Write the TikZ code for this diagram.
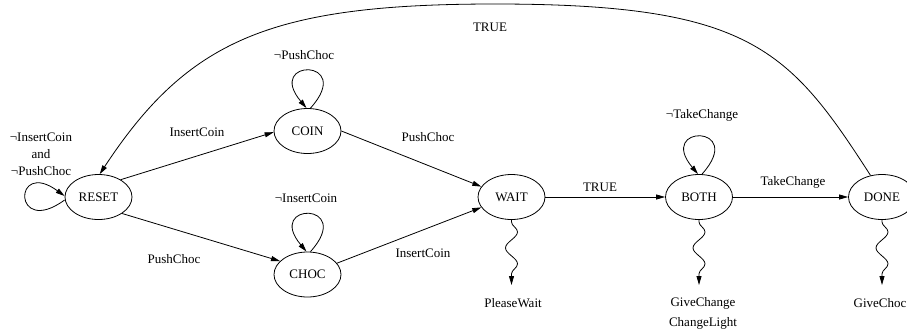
\documentclass[tikz,border=0pt]{standalone}
\usepackage{fontspec}
\setmainfont{Liberation Serif}
\usetikzlibrary{shapes.geometric,arrows.meta,decorations.pathmorphing}
\begin{document}
\begin{tikzpicture}[x=1pt,y=-1pt,
  state/.style={ellipse,draw,line width=0.8pt,minimum width=67pt,minimum height=45pt,
    inner sep=0pt,font=\fontsize{13}{15}\selectfont},
  lbl/.style={font=\fontsize{13}{15}\selectfont,inner sep=0pt},
  edge/.style={line width=0.8pt,-{Triangle[length=9pt,width=5pt]}},
  emit/.style={edge,decorate,decoration={snake,segment length=32pt,amplitude=6pt,
    pre length=2pt,post length=10pt}}]
\useasboundingbox (0,0) rectangle (907,335);

% states
\node[state] (RESET) at (98.5,197) {RESET};
\node[state] (COIN)  at (307.5,131) {COIN};
\node[state] (CHOC)  at (307.5,274.5) {CHOC};
\node[state] (WAIT)  at (511.5,197) {WAIT};
\node[state] (BOTH)  at (699,197) {BOTH};
\node[state] (DONE)  at (882,197) {DONE};

% ends of the output arrows
\coordinate (outW) at (511.5,285);
\coordinate (outB) at (699,285);
\coordinate (outD) at (882,285);
\coordinate (top)  at (495,4);

% transitions
\draw[edge] (RESET.38) -- (COIN.182);
\draw[edge] (RESET.-35) -- (CHOC.154);
\draw[edge] (COIN.east) -- (WAIT.161);
\draw[edge] (CHOC.21) -- (WAIT.199);
\draw[edge] (WAIT) -- (BOTH);
\draw[edge] (BOTH) -- (DONE);
\draw[edge] (DONE.118) .. controls (789,49) and (750,4) .. (top)
            .. controls (270,4) and (188,40) .. (RESET.87);

% self loops
\draw[edge] ([yshift=-3pt]RESET.west) .. controls +(-52,38) and +(-52,-38) .. ([yshift=1pt]RESET.west);
\draw[edge] ([xshift=3pt]COIN.north) .. controls +(45,-50) and +(-42,-50) .. ([xshift=-1pt]COIN.north);
\draw[edge] ([xshift=3pt]CHOC.north) .. controls +(45,-50) and +(-42,-50) .. ([xshift=-1pt]CHOC.north);
\draw[edge] ([xshift=3pt]BOTH.north) .. controls +(45,-50) and +(-42,-50) .. ([xshift=-1pt]BOTH.north);

% outputs
\draw[emit] (WAIT.south) -- (outW);
\draw[emit] (BOTH.south) -- (outB);
\draw[emit] (DONE.south) -- (outD);

% labels
\node[lbl,align=center,font=\fontsize{13}{17}\selectfont] (lResetLoop) at (41,154) {¬InsertCoin\\and\\¬PushChoc};
\node[lbl] (lInsC)      at (197,132) {InsertCoin};
\node[lbl] (lPushR)     at (174,259) {PushChoc};
\node[lbl] (lCoinLoop)  at (304,55)  {¬PushChoc};
\node[lbl] (lChocLoop)  at (306,198) {¬InsertCoin};
\node[lbl] (lPushW)     at (428,137) {PushChoc};
\node[lbl] (lInsW)      at (423,253) {InsertCoin};
\node[lbl] (lTrueTop)   at (490,27)  {TRUE};
\node[lbl] (lTrueW)     at (600,187) {TRUE};
\node[lbl] (lBothLoop)  at (702,115) {¬TakeChange};
\node[lbl] (lTake)      at (793,182) {TakeChange};
\node[lbl] (oW)         at (513,303) {PleaseWait};
\node[lbl,align=center,font=\fontsize{13}{20}\selectfont] (oB) at (703,313) {GiveChange\\ChangeLight};
\node[lbl] (oD)         at (880,303) {GiveChoc};
\end{tikzpicture}
\end{document}
